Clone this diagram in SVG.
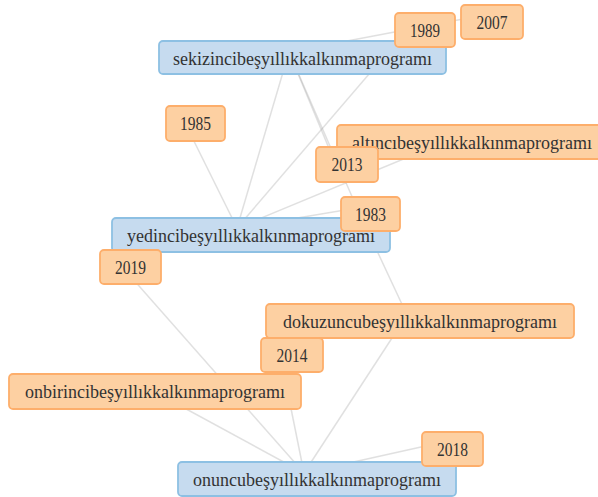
<svg xmlns="http://www.w3.org/2000/svg" width="598" height="497" viewBox="0 0 598 497">
<style>
.bg{fill:#ffffff}
.edge{stroke:#999999;stroke-opacity:0.3;stroke-width:1.5;fill:none}
.blue rect{fill:#c6dbef;stroke:#8dc0e3;stroke-width:1.8}
.orange rect{fill:#fdd0a2;stroke:#fdae6b;stroke-width:1.8}
text{font-family:"Liberation Serif","Times New Roman",serif;font-size:18px;fill:#333333;text-anchor:middle}
</style>
<rect class="bg" x="0" y="0" width="598" height="497"/>
<g id="connectors">
<line class="edge" x1="289" y1="52" x2="237" y2="228"/>
<line class="edge" x1="289" y1="52" x2="479" y2="16"/>
<line class="edge" x1="289" y1="52" x2="333" y2="158"/>
<line class="edge" x1="289" y1="52" x2="357" y2="208"/>
<line class="edge" x1="357" y1="208" x2="407" y2="315"/>
<line class="edge" x1="237" y1="228" x2="412" y2="24"/>
<line class="edge" x1="237" y1="228" x2="182" y2="117"/>
<line class="edge" x1="237" y1="228" x2="459" y2="136"/>
<line class="edge" x1="237" y1="228" x2="357" y2="208"/>
<line class="edge" x1="304" y1="473" x2="142" y2="385"/>
<line class="edge" x1="304" y1="473" x2="117" y2="261"/>
<line class="edge" x1="304" y1="473" x2="279" y2="349"/>
<line class="edge" x1="304" y1="473" x2="407" y2="315"/>
<line class="edge" x1="304" y1="473" x2="439" y2="443"/>
</g>
<g id="n-sekizinci" class="blue"><rect x="159" y="41" width="287" height="33" rx="4"/><text x="302.5" y="64.5">sekizincibeşyıllıkkalkınmaprogramı</text></g>
<g id="n-yedinci" class="blue"><rect x="112" y="218" width="278" height="34" rx="4"/><text x="251" y="241.5">yedincibeşyıllıkkalkınmaprogramı</text></g>
<g id="n-onuncu" class="blue"><rect x="178" y="462" width="278" height="34" rx="4"/><text x="317" y="485.5">onuncubeşyıllıkkalkınmaprogramı</text></g>
<g id="n-1989" class="orange"><rect x="395" y="13" width="60" height="34" rx="4"/><text x="425" y="36.5" textLength="30" lengthAdjust="spacingAndGlyphs">1989</text></g>
<g id="n-2007" class="orange"><rect x="461" y="5" width="62" height="34" rx="4"/><text x="492" y="28.5" textLength="31" lengthAdjust="spacingAndGlyphs">2007</text></g>
<g id="n-1985" class="orange"><rect x="166" y="106" width="59" height="35" rx="4"/><text x="195.5" y="129.5" textLength="31" lengthAdjust="spacingAndGlyphs">1985</text></g>
<g id="n-altinci" class="orange"><rect x="337" y="125" width="270" height="34" rx="4"/><text x="472" y="148.5">altıncıbeşyıllıkkalkınmaprogramı</text></g>
<g id="n-2013" class="orange"><rect x="316" y="147" width="62" height="35" rx="4"/><text x="347" y="171" textLength="31" lengthAdjust="spacingAndGlyphs">2013</text></g>
<g id="n-1983" class="orange"><rect x="341" y="197" width="59" height="34" rx="4"/><text x="370.5" y="220.5" textLength="31" lengthAdjust="spacingAndGlyphs">1983</text></g>
<g id="n-2019" class="orange"><rect x="100" y="250" width="61" height="34" rx="4"/><text x="130.5" y="273.5" textLength="31" lengthAdjust="spacingAndGlyphs">2019</text></g>
<g id="n-dokuzuncu" class="orange"><rect x="266" y="304" width="308" height="34" rx="4"/><text x="420" y="327.5">dokuzuncubeşyıllıkkalkınmaprogramı</text></g>
<g id="n-2014" class="orange"><rect x="261" y="338" width="62" height="34" rx="4"/><text x="292" y="361.5" textLength="31" lengthAdjust="spacingAndGlyphs">2014</text></g>
<g id="n-onbirinci" class="orange"><rect x="9" y="374" width="292" height="35" rx="4"/><text x="155" y="398">onbirincibeşyıllıkkalkınmaprogramı</text></g>
<g id="n-2018" class="orange"><rect x="422" y="432" width="61" height="34" rx="4"/><text x="452.5" y="455.5" textLength="31" lengthAdjust="spacingAndGlyphs">2018</text></g>
</svg>
